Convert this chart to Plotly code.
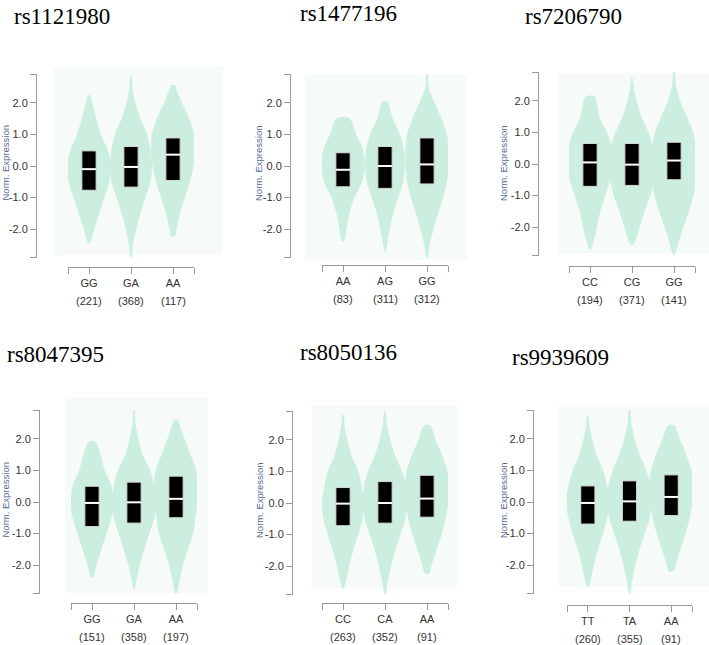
import plotly.graph_objects as go

W, H = 709, 645

TITLES = ["rs1121980", "rs1477196", "rs7206790", "rs8047395", "rs8050136", "rs9939609"]
GENOTYPES = [["GG", "GA", "AA"], ["AA", "AG", "GG"], ["CC", "CG", "GG"],
             ["GG", "GA", "AA"], ["CC", "CA", "AA"], ["TT", "TA", "AA"]]
COUNTS = [[221, 368, 117], [83, 311, 312], [194, 371, 141],
          [151, 358, 197], [263, 352, 91], [260, 355, 91]]

Q1 = [[-0.77, -0.67, -0.46], [-0.66, -0.71, -0.57], [-0.71, -0.68, -0.50],
      [-0.78, -0.67, -0.50], [-0.72, -0.64, -0.45], [-0.70, -0.61, -0.43]]
MEDIAN = [[-0.10, -0.03, 0.36], [-0.12, 0.00, 0.05], [0.05, -0.02, 0.11],
          [-0.03, -0.01, 0.10], [-0.02, 0.00, 0.14], [-0.03, 0.02, 0.16]]
Q3 = [[0.48, 0.62, 0.89], [0.42, 0.62, 0.89], [0.65, 0.65, 0.69],
      [0.50, 0.63, 0.82], [0.49, 0.68, 0.88], [0.51, 0.67, 0.86]]

# violin outline estimates: extreme values, tip half-widths, half-widths at LEVELS
LEVELS = [-2.5, -2.0, -1.5, -1.0, -0.5, 0.0, 0.5, 1.0, 1.5, 2.0, 2.5]
V_LO = [[-2.45, -2.90, -2.23], [-2.39, -2.71, -2.90], [-2.70, -2.57, -2.90],
        [-2.40, -2.76, -2.90], [-2.72, -2.89, -2.24], [-2.70, -2.90, -2.20]]
V_HI = [[2.24, 2.88, 2.56], [1.51, 2.04, 2.94], [2.13, 2.72, 2.92],
        [1.91, 2.91, 2.59], [2.79, 2.92, 2.46], [2.75, 2.92, 2.43]]
V_LO_W = [[0.02, 0.01, 0.04], [0.02, 0.01, 0.01], [0.01, 0.01, 0.01],
          [0.02, 0.01, 0.01], [0.01, 0.01, 0.05], [0.01, 0.01, 0.05]]
V_HI_W = [[0.02, 0.01, 0.05], [0.15, 0.05, 0.01], [0.11, 0.01, 0.01],
          [0.07, 0.01, 0.05], [0.01, 0.01, 0.07], [0.01, 0.01, 0.07]]
N = None
V_HW = [
    [[N, 0.12, 0.24, 0.36, 0.48, 0.52, 0.44, 0.28, 0.17, 0.07, N],
     [0.04, 0.12, 0.22, 0.34, 0.46, 0.50, 0.46, 0.38, 0.22, 0.10, 0.03],
     [N, 0.08, 0.16, 0.28, 0.40, 0.48, 0.52, 0.50, 0.38, 0.21, 0.06]],
    [[N, 0.08, 0.15, 0.27, 0.45, 0.52, 0.47, 0.31, N, N, N],
     [0.04, 0.11, 0.19, 0.31, 0.43, 0.47, 0.45, 0.35, 0.18, N, N],
     [0.06, 0.15, 0.26, 0.38, 0.47, 0.51, 0.51, 0.47, 0.34, 0.18, 0.03]],
    [[0.07, 0.16, 0.24, 0.36, 0.48, 0.56, 0.52, 0.40, 0.22, N, N],
     [0.06, 0.18, 0.30, 0.43, 0.52, 0.55, 0.50, 0.39, 0.22, 0.10, 0.03],
     [0.10, 0.22, 0.35, 0.46, 0.53, 0.55, 0.52, 0.45, 0.30, 0.14, 0.04]],
    [[N, 0.10, 0.22, 0.34, 0.46, 0.50, 0.46, 0.30, 0.20, N, N],
     [0.05, 0.13, 0.24, 0.36, 0.48, 0.52, 0.48, 0.38, 0.20, 0.10, 0.03],
     [0.08, 0.16, 0.28, 0.40, 0.46, 0.50, 0.52, 0.48, 0.34, 0.20, 0.07]],
    [[0.06, 0.14, 0.24, 0.36, 0.46, 0.50, 0.44, 0.36, 0.20, 0.10, 0.03],
     [0.06, 0.14, 0.24, 0.36, 0.48, 0.52, 0.50, 0.40, 0.24, 0.12, 0.04],
     [N, 0.10, 0.22, 0.34, 0.44, 0.50, 0.52, 0.48, 0.36, 0.20, N]],
    [[0.06, 0.14, 0.24, 0.36, 0.46, 0.52, 0.46, 0.36, 0.20, 0.10, 0.03],
     [0.06, 0.14, 0.24, 0.36, 0.48, 0.52, 0.50, 0.40, 0.24, 0.12, 0.04],
     [N, 0.10, 0.22, 0.34, 0.44, 0.50, 0.52, 0.48, 0.36, 0.20, N]],
]

Y_TICKS = [-2, -1, 0, 1, 2]
Y_TICK_TEXT = ["-2.0", "-1.0", "0.0", "1.0", "2.0"]
Y_RANGE = [-2.92, 2.92]
BOX_HALF = 0.17

# ---- layout geometry (pixels) ----
YAX_X = [36, 290, 538, 39, 292, 533]
YDOM = [(74, 258), (74, 258), (72, 256), (410, 594), (411, 595), (410, 594)]
XDOM = [(68, 194), (322, 448), (569, 695), (71, 197), (322, 448), (567, 692)]
XAX_Y = [267, 265, 266, 603, 603, 605]
BG = [(53, 223, 66, 255), (305, 467, 75, 260), (558, 709, 73, 253),
      (65, 208, 397, 593), (312, 457, 405, 588), (558, 709, 407, 587)]
TITLE_POS = [(12, 16), (298, 14), (523, 16), (5, 354), (298, 353), (510, 357)]
YTITLE_POS = [(4.5, 163), (258, 163), (503, 163), (4.5, 500), (259, 500), (503, 500)]

VIOLIN = "#cbeedf"
AXC = "#9a9a9a"
TXT = "#333333"
TICKFONT = dict(family="Liberation Sans Narrow, Arial Narrow, Liberation Sans, sans-serif",
                size=11, color=TXT)


def px_x(v):
    return v / W


def px_y(v):
    return 1 - v / H


fig = go.Figure()
layout = dict(width=W, height=H, margin=dict(l=0, r=0, t=0, b=0),
              paper_bgcolor="white", plot_bgcolor="rgba(0,0,0,0)",
              showlegend=False)
shapes, annotations = [], []

for p in range(6):
    sfx = "" if p == 0 else str(p + 1)
    xa, ya = "x" + sfx, "y" + sfx
    # violins
    for k in range(3):
        lo, hi = V_LO[p][k], V_HI[p][k]
        pts = [(LEVELS[i], V_HW[p][k][i]) for i in range(len(LEVELS))
               if V_HW[p][k][i] is not None and lo < LEVELS[i] < hi]
        right = [(V_LO_W[p][k], lo)] + [(w, y) for y, w in pts] + [(V_HI_W[p][k], hi)]
        xs = [k + w for w, y in right] + [k - w for w, y in reversed(right)]
        ys = [y for w, y in right] + [y for w, y in reversed(right)]
        xs.append(xs[0]); ys.append(ys[0])
        fig.add_trace(go.Scatter(x=xs, y=ys, xaxis=xa, yaxis=ya, mode="lines",
                                 line=dict(color=VIOLIN, width=0.5, shape="spline", smoothing=0.8),
                                 fill="toself", fillcolor=VIOLIN, hoverinfo="skip"))
    # interquartile boxes and medians
    for k in range(3):
        bxs = [k - BOX_HALF, k + BOX_HALF, k + BOX_HALF, k - BOX_HALF, k - BOX_HALF]
        bys = [Q1[p][k], Q1[p][k], Q3[p][k], Q3[p][k], Q1[p][k]]
        fig.add_trace(go.Scatter(x=bxs, y=bys, xaxis=xa, yaxis=ya, mode="lines",
                                 line=dict(color="#d8d8d8", width=1),
                                 fill="toself", fillcolor="black", hoverinfo="skip"))
        fig.add_trace(go.Scatter(x=[k - BOX_HALF, k + BOX_HALF], y=[MEDIAN[p][k]] * 2,
                                 xaxis=xa, yaxis=ya, mode="lines",
                                 line=dict(color="white", width=2), hoverinfo="skip"))

    x0, x1 = XDOM[p]
    y0, y1 = YDOM[p]
    layout["xaxis" + sfx] = dict(
        domain=[px_x(x0), px_x(x1)], range=[-0.5, 2.5], anchor="free",
        position=px_y(XAX_Y[p]), showline=True, linecolor=AXC, linewidth=1,
        ticks="outside", ticklen=6, tickcolor=AXC, tickwidth=1,
        tickvals=[-0.5, 0, 1, 2, 2.5], ticktext=[""] + GENOTYPES[p] + [""],
        tickfont=TICKFONT, showgrid=False, zeroline=False, fixedrange=True)
    layout["yaxis" + sfx] = dict(
        domain=[px_y(y1), px_y(y0)], range=Y_RANGE, anchor="free",
        position=px_x(YAX_X[p]), showline=True, linecolor=AXC, linewidth=1,
        ticks="outside", ticklen=6, tickcolor=AXC, tickwidth=1,
        tickvals=[Y_RANGE[0] + 0.001] + Y_TICKS + [Y_RANGE[1] - 0.001],
        ticktext=[""] + Y_TICK_TEXT + [""],
        tickfont=TICKFONT, showgrid=False, zeroline=False, fixedrange=True)

    bx0, bx1, by0, by1 = BG[p]
    shapes.append(dict(type="rect", xref="paper", yref="paper", layer="below",
                       x0=px_x(bx0), x1=px_x(bx1), y0=px_y(by1), y1=px_y(by0),
                       fillcolor="#f6fbf9", line=dict(width=0)))

    tx, ty = TITLE_POS[p]
    annotations.append(dict(text=TITLES[p], xref="paper", yref="paper",
                            x=px_x(tx), y=px_y(ty), xanchor="left", yanchor="middle",
                            showarrow=False,
                            font=dict(family="Liberation Serif, Times New Roman, serif",
                                      size=23, color="black")))
    yx, yy = YTITLE_POS[p]
    annotations.append(dict(text="Norm. Expression", xref="paper", yref="paper",
                            x=px_x(yx), y=px_y(yy), xanchor="center", yanchor="middle",
                            textangle=-90, showarrow=False,
                            font=dict(family="Liberation Sans, Arial, sans-serif",
                                      size=9.5, color="#52698f")))
    for k in range(3):
        annotations.append(dict(text="(%d)" % COUNTS[p][k], xref=xa, yref="paper",
                                x=k, y=px_y(XAX_Y[p]), yanchor="middle", yshift=-34,
                                showarrow=False, font=TICKFONT))

layout["shapes"] = shapes
layout["annotations"] = annotations
fig.update_layout(**layout)
fig.write_html("out.html")
